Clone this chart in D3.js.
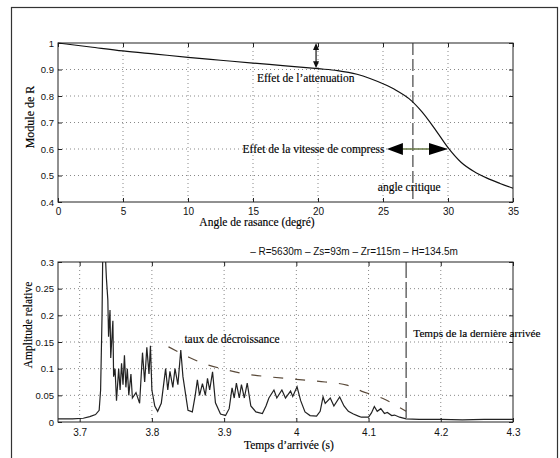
<!DOCTYPE html>
<html>
<head>
<meta charset="utf-8">
<script src="https://cdn.jsdelivr.net/npm/d3@7"></script>
<style>
  body { margin: 0; background: #fff; }
  svg { display: block; }
</style>
</head>
<body>
<svg id="chart" width="560" height="458"></svg>
<script>
// module du coefficient de réflexion en fonction de l'angle de rasance
const angles = [0, 2.5, 5, 7.5, 10, 12.5, 15, 17.5, 20, 21.5, 23, 24, 25, 26, 27, 28, 29, 30, 31, 32, 33, 34, 35];
const modR = [1.0, 0.985, 0.97, 0.958, 0.946, 0.935, 0.924, 0.914, 0.903, 0.896, 0.882, 0.866, 0.846, 0.822, 0.79, 0.74, 0.675, 0.605, 0.55, 0.515, 0.49, 0.47, 0.452];
const angleTicks = [0, 5, 10, 15, 20, 25, 30, 35];
const modTicks = [0.4, 0.5, 0.6, 0.7, 0.8, 0.9, 1];
const angleCritique = 27.3;

// réponse impulsionnelle
const times = [3.67, 3.69, 3.705, 3.714, 3.722, 3.727, 3.729, 3.731, 3.732, 3.735, 3.737, 3.739, 3.740, 3.742, 3.743, 3.746, 3.747, 3.749,
  3.751, 3.754, 3.756, 3.758, 3.760, 3.762, 3.764, 3.766, 3.768, 3.771, 3.773, 3.778, 3.783, 3.787, 3.790, 3.793, 3.796, 3.798,
  3.800, 3.804, 3.808, 3.813, 3.819, 3.822, 3.825, 3.829, 3.832, 3.836, 3.840, 3.843, 3.850, 3.856, 3.860, 3.863, 3.866, 3.870,
  3.874, 3.877, 3.880, 3.884, 3.888, 3.895, 3.902, 3.907, 3.911, 3.914, 3.917, 3.921, 3.924, 3.928, 3.932, 3.937, 3.944, 3.953,
  3.958, 3.962, 3.969, 3.973, 3.980, 3.985, 3.992, 3.995, 4.001, 4.006, 4.012, 4.019, 4.028, 4.033, 4.037, 4.040, 4.047, 4.052,
  4.060, 4.066, 4.072, 4.079, 4.086, 4.090, 4.100, 4.104, 4.108, 4.112, 4.117, 4.122, 4.126, 4.132, 4.136, 4.143, 4.152, 4.170,
  4.200, 4.230, 4.260, 4.300];
const amps = [0.006, 0.006, 0.007, 0.010, 0.014, 0.022, 0.06, 0.20, 0.32, 0.33, 0.27, 0.229, 0.16, 0.21, 0.12, 0.19, 0.085, 0.10,
  0.04, 0.10, 0.06, 0.11, 0.07, 0.125, 0.065, 0.10, 0.05, 0.09, 0.045, 0.055, 0.035, 0.13, 0.075, 0.14, 0.09, 0.143,
  0.06, 0.03, 0.02, 0.035, 0.10, 0.06, 0.095, 0.065, 0.10, 0.07, 0.135, 0.085, 0.022, 0.019, 0.05, 0.079, 0.05, 0.072,
  0.05, 0.082, 0.06, 0.094, 0.036, 0.015, 0.012, 0.025, 0.064, 0.045, 0.073, 0.045, 0.07, 0.045, 0.073, 0.03, 0.019, 0.016,
  0.03, 0.045, 0.06, 0.045, 0.06, 0.045, 0.058, 0.048, 0.066, 0.04, 0.019, 0.012, 0.011, 0.02, 0.047, 0.035, 0.045, 0.03,
  0.047, 0.03, 0.02, 0.015, 0.011, 0.009, 0.009, 0.017, 0.029, 0.02, 0.025, 0.016, 0.018, 0.012, 0.013, 0.009, 0.006, 0.005,
  0.005, 0.004, 0.005, 0.005];
const decayT = [3.823, 3.852, 3.875, 3.90, 3.93, 3.96, 4.0, 4.04, 4.07, 4.09, 4.12, 4.152];
const decayA = [0.141, 0.121, 0.108, 0.099, 0.09, 0.085, 0.08, 0.075, 0.069, 0.058, 0.044, 0.02];
const timeTicks = [3.7, 3.8, 3.9, 4, 4.1, 4.2, 4.3];
const ampTicks = [0, 0.05, 0.1, 0.15, 0.2, 0.25, 0.3];
const derniereArrivee = 4.152;

const svg = d3.select("#chart");
const sans = "Liberation Sans, Arial, sans-serif";
const serif = "Liberation Serif, Times New Roman, serif";
const fmt = (d) => String(+d.toFixed(2));

// cadre extérieur
svg.append("rect")
  .attr("x", 11.5).attr("y", 7.5)
  .attr("width", 546).attr("height", 470)
  .attr("fill", "none").attr("stroke", "#333").attr("stroke-width", 1.2);

function panel(x, y, xTicks, yTicks, xPad) {
  const [x0, x1] = x.range();
  const [y0, y1] = y.range();
  const g = svg.append("g");

  // grille pointillée
  g.append("g").selectAll("line")
    .data(xTicks.filter((d) => x(d) > x0 + 1 && x(d) < x1 - 1))
    .join("line")
    .attr("x1", (d) => x(d)).attr("x2", (d) => x(d))
    .attr("y1", y1).attr("y2", y0)
    .attr("stroke", "#888").attr("stroke-dasharray", "1,3");
  g.append("g").selectAll("line")
    .data(yTicks.filter((d) => y(d) < y0 - 1 && y(d) > y1 + 1))
    .join("line")
    .attr("x1", x0).attr("x2", x1)
    .attr("y1", (d) => y(d)).attr("y2", (d) => y(d))
    .attr("stroke", "#888").attr("stroke-dasharray", "1,3");

  const axes = [
    [d3.axisBottom(x).tickValues(xTicks), `translate(0,${y0})`, true],
    [d3.axisTop(x).tickValues(xTicks), `translate(0,${y1})`, false],
    [d3.axisLeft(y).tickValues(yTicks), `translate(${x0},0)`, true],
    [d3.axisRight(y).tickValues(yTicks), `translate(${x1},0)`, false],
  ];
  axes.forEach(([axis, tr, labels], i) => {
    const a = g.append("g")
      .attr("transform", tr)
      .call(axis.tickSizeInner(-4).tickSizeOuter(0)
        .tickPadding(i === 0 ? xPad : 4).tickFormat(labels ? fmt : ""));
    a.select(".domain").remove();
    a.selectAll("line").attr("stroke", "#222");
    a.selectAll("text").attr("font-family", sans)
      .attr("font-size", i === 0 ? 10 : 9.5).attr("fill", "#111");
  });

  g.append("rect")
    .attr("x", x0).attr("y", y1)
    .attr("width", x1 - x0).attr("height", y0 - y1)
    .attr("fill", "none").attr("stroke", "#222");
  return g;
}

function note(x, y, txt, size) {
  return svg.append("text")
    .attr("x", x).attr("y", y)
    .attr("font-family", serif).attr("font-size", size || 11.5)
    .attr("fill", "#000").attr("stroke", "#000").attr("stroke-width", 0.15)
    .text(txt);
}

// ---- graphique du haut ----
const xa = d3.scaleLinear().domain([0, 35]).range([58, 513]);
const ya = d3.scaleLinear().domain([0.4, 1]).range([202, 43]);
panel(xa, ya, angleTicks, modTicks, 6);

svg.append("line")
  .attr("x1", xa(angleCritique)).attr("x2", xa(angleCritique))
  .attr("y1", ya(1)).attr("y2", ya(0.4))
  .attr("stroke", "#333").attr("stroke-width", 1.1).attr("stroke-dasharray", "12,4");

svg.append("path")
  .datum(angles.map((a, i) => [a, modR[i]]))
  .attr("fill", "none").attr("stroke", "#111").attr("stroke-width", 1.2)
  .attr("d", d3.line().x((d) => xa(d[0])).y((d) => ya(d[1])).curve(d3.curveMonotoneX));

// flèche verticale (atténuation)
const av = xa(19.85);
svg.append("line")
  .attr("x1", av).attr("x2", av).attr("y1", ya(1) + 3).attr("y2", ya(0.905) - 3)
  .attr("stroke", "#111").attr("stroke-width", 1.2);
svg.append("path")
  .attr("d", `M${av},${ya(1)} l-3,7 l6,0 Z M${av},${ya(0.905)} l-3,-7 l6,0 Z`)
  .attr("fill", "#111");

// flèche horizontale (vitesse de compression)
const hy = ya(0.6);
const hl = xa(25.3), hr = xa(30);
svg.append("line")
  .attr("x1", hl + 10).attr("x2", hr - 10).attr("y1", hy).attr("y2", hy)
  .attr("stroke", "#667744").attr("stroke-width", 1.6);

note(xa(14.2), ya(0.585), "Effet de la vitesse de compress");

svg.append("path")
  .attr("d", `M${hl},${hy} l16,-6 l0,12 Z M${hr},${hy} l-19,-6 l0,12 Z`)
  .attr("fill", "#000");

note(xa(15.3), ya(0.853), "Effet de l’attenuation");
note(xa(24.6), ya(0.441), "angle critique");
note(257, 226, "Angle de rasance (degré)").attr("text-anchor", "middle");
note(0, 0, "Module de R", 12)
  .attr("transform", "translate(34,117) rotate(-90)").attr("text-anchor", "middle");

// ---- graphique du bas ----
const xt = d3.scaleLinear().domain([3.67, 4.3]).range([58, 513]);
const yt = d3.scaleLinear().domain([0, 0.3]).range([422, 262]);
panel(xt, yt, timeTicks, ampTicks, 7);

svg.append("clipPath").attr("id", "clip")
  .append("rect").attr("x", 58).attr("y", 262).attr("width", 455).attr("height", 160);

svg.append("path")
  .datum(times.map((t, i) => [t, amps[i]]))
  .attr("clip-path", "url(#clip)")
  .attr("fill", "none").attr("stroke", "#222").attr("stroke-width", 1.2)
  .attr("d", d3.line().x((d) => xt(d[0])).y((d) => yt(d[1])));

svg.append("path")
  .datum(decayT.map((t, i) => [t, decayA[i]]))
  .attr("fill", "none").attr("stroke", "#5a4a3a").attr("stroke-width", 1.2)
  .attr("stroke-dasharray", "10,12")
  .attr("d", d3.line().x((d) => xt(d[0])).y((d) => yt(d[1])).curve(d3.curveMonotoneX));

svg.append("line")
  .attr("x1", xt(derniereArrivee)).attr("x2", xt(derniereArrivee))
  .attr("y1", yt(0.3)).attr("y2", yt(0))
  .attr("stroke", "#333").attr("stroke-width", 1.1).attr("stroke-dasharray", "16,4");

note(xt(3.845), yt(0.148), "taux de décroissance");
note(xt(4.162), yt(0.159), "Temps de la dernière arrivée", 11.2);

svg.append("text")
  .attr("x", 354).attr("y", 255).attr("text-anchor", "middle")
  .attr("font-family", sans).attr("font-size", 10).attr("fill", "#111")
  .text("– R=5630m – Zs=93m – Zr=115m – H=134.5m");

note(289, 449, "Temps d’arrivée (s)").attr("text-anchor", "middle");
note(0, 0, "Amplitude relative")
  .attr("transform", "translate(32,325) rotate(-90)").attr("text-anchor", "middle");
</script>
</body>
</html>
